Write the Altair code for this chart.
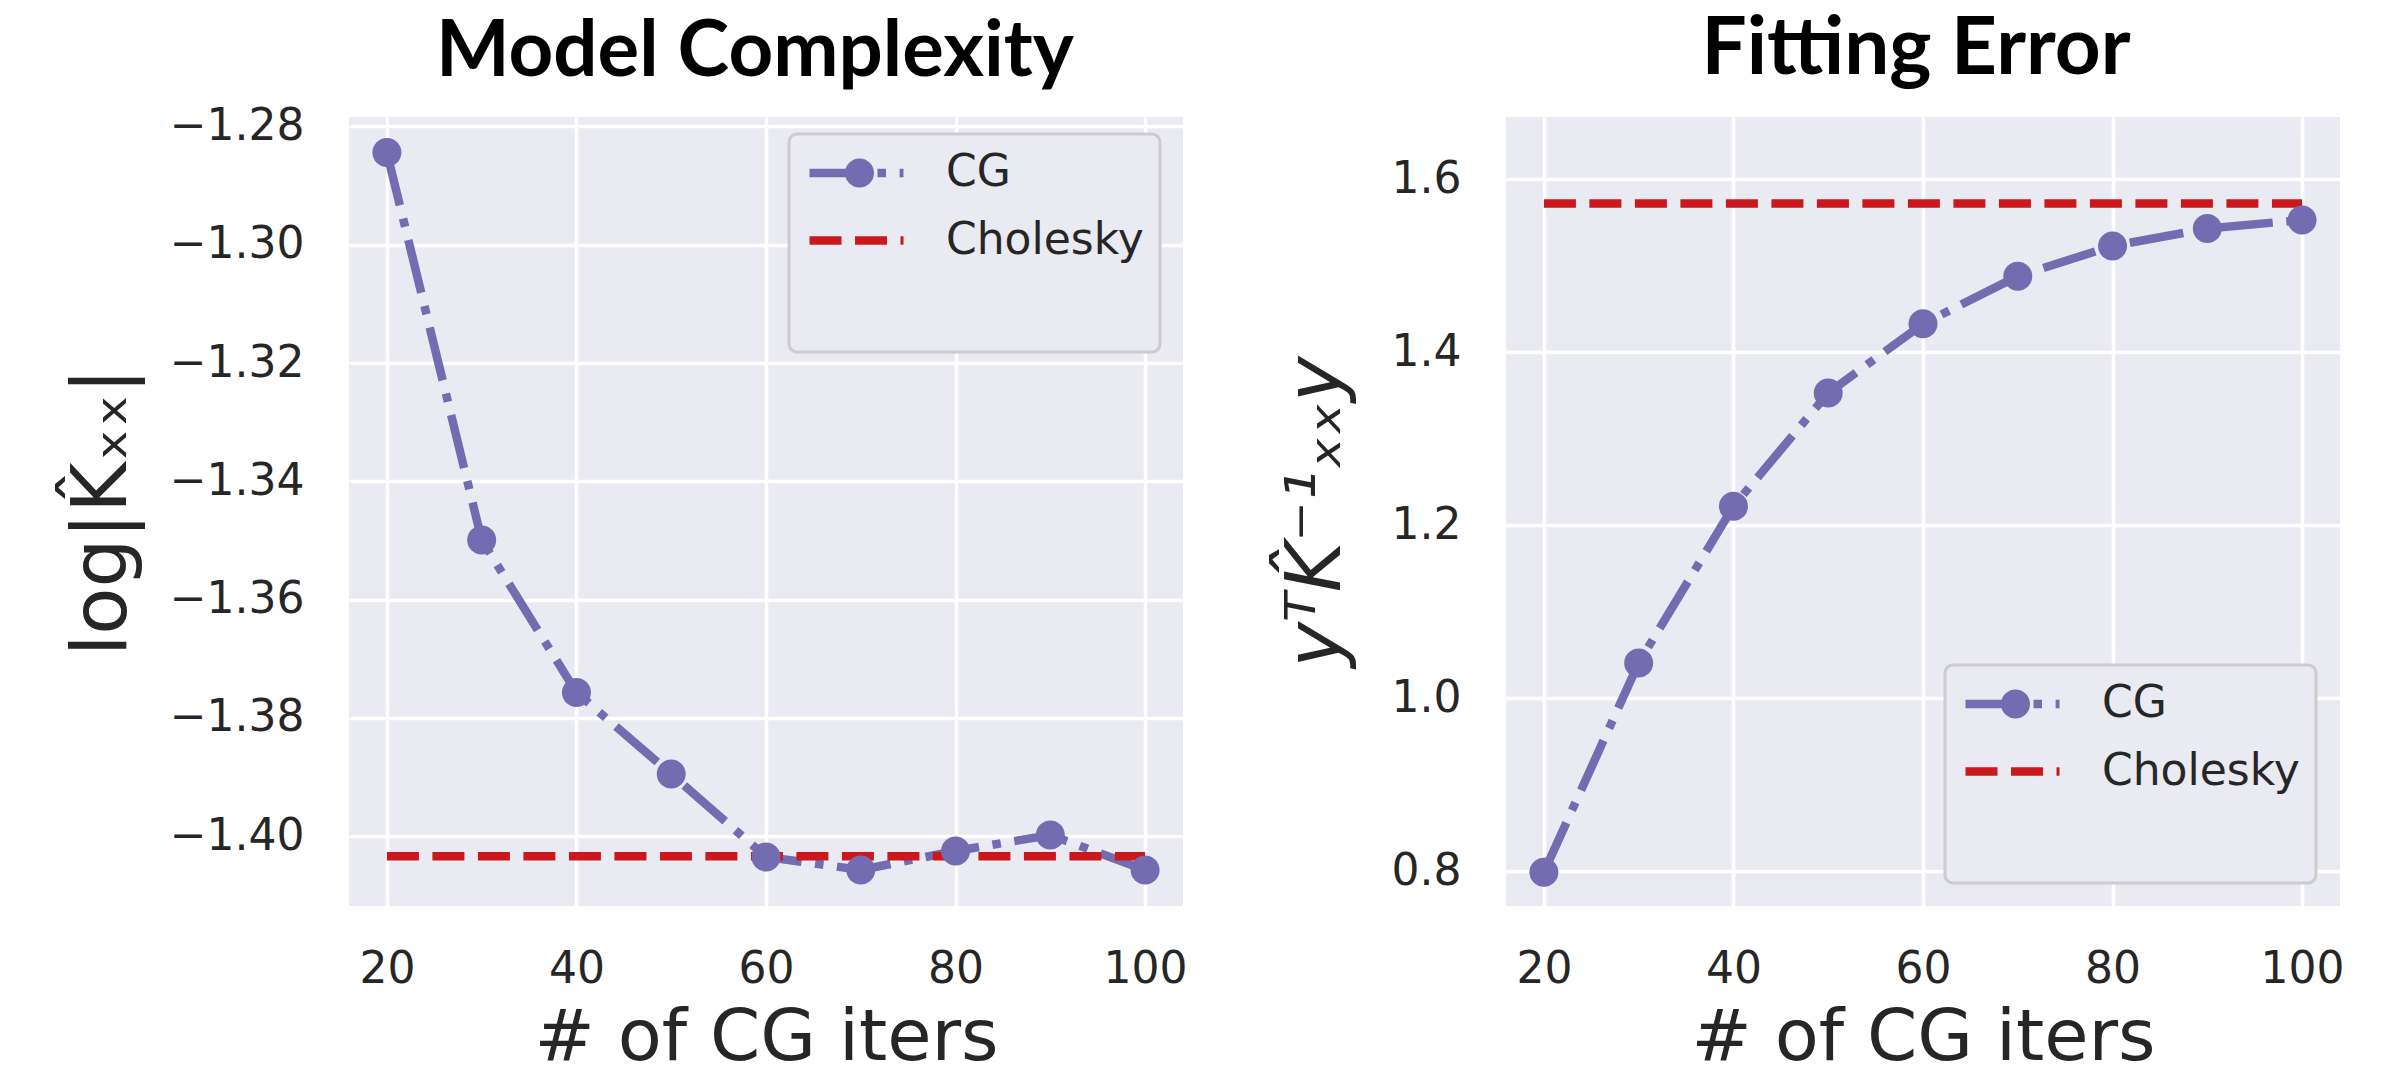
import altair as alt
import pandas as pd

iters = [20, 30, 40, 50, 60, 70, 80, 90, 100]
logdet_cg = [-1.2844, -1.3499, -1.3757, -1.3895, -1.4035, -1.4057, -1.4025, -1.3998, -1.4057]
logdet_chol = -1.4034
fit_cg = [0.799, 1.041, 1.222, 1.353, 1.433, 1.488, 1.523, 1.543, 1.553]
fit_chol = 1.572

series = ["CG", "Cholesky"]
marker_keys = ["CG marker", "Cholesky marker"]
colors = ["#756bb1", "#cb181d"]
x_ticks = [20, 40, 60, 80, 100]
left_ticks = [-1.40, -1.38, -1.36, -1.34, -1.32, -1.30, -1.28]
right_ticks = [0.8, 1.0, 1.2, 1.4, 1.6]
x_domain = [16, 104]
left_domain = [-1.4118, -1.2784]
right_domain = [0.760, 1.672]

PURPLE = colors[0]
LW = 8.5
DASHES = [[54.4, 13.6, 8.5, 13.6], [32, 13.5]]
W, H = 834, 789


def make_df(cg, chol):
    rows = [{"iter": i, "value": v, "series": "CG"} for i, v in zip(iters, cg)]
    rows += [{"iter": iters[0], "value": chol, "series": "Cholesky"},
             {"iter": iters[-1], "value": chol, "series": "Cholesky"}]
    df = pd.DataFrame(rows)
    df["mk"] = df["series"] + " marker"
    return df


def panel(cg, chol, ydom, yticks, yfmt, ytitle, ystyle, ytpad, title, tsize, toff, tdx, lx, ly):
    df = make_df(cg, chol)
    base = alt.Chart(df)
    x = alt.X("iter:Q", scale=alt.Scale(domain=x_domain, nice=False, zero=False),
              axis=alt.Axis(values=x_ticks, title="# of CG iters", format="d"))
    y = alt.Y("value:Q", scale=alt.Scale(domain=ydom, nice=False, zero=False),
              axis=alt.Axis(values=yticks, format=yfmt, title=ytitle, titleFontStyle=ystyle,
                            titlePadding=ytpad))
    leg_a = alt.Legend(
        orient="none", legendX=lx, legendY=ly, title="x", titleOrient="bottom",
        titleOpacity=0, titleFontSize=50, titlePadding=22,
        symbolType="stroke", symbolSize=94 * 94, symbolStrokeWidth=LW,
        clipHeight=46, rowPadding=21.6, padding=16, labelOffset=38,
        labelFontSize=44, labelFont="DejaVu Sans", labelColor="#262626", labelLimit=500,
        fillColor="#eaeaf2", strokeColor="#cccccc", cornerRadius=8, zindex=1,
    )
    leg_b = alt.Legend(
        orient="none", legendX=lx, legendY=ly, title=None,
        symbolSize=840, symbolFillColor=PURPLE, symbolStrokeWidth=0, symbolOpacity=1,
        clipHeight=46, rowPadding=21.6, padding=16, symbolOffset=32.5,
        labelOpacity=0, labelExpr="''", labelFontSize=44, labelFont="DejaVu Sans",
        labelLimit=500, labelOffset=38, zindex=2,
    )
    line = base.mark_line(strokeWidth=LW).encode(
        x=x, y=y,
        color=alt.Color("series:N", scale=alt.Scale(domain=series, range=colors), legend=leg_a),
        strokeDash=alt.StrokeDash("series:N", scale=alt.Scale(domain=series, range=DASHES), legend=leg_a),
    )
    pts = base.transform_filter("datum.series == 'CG'").mark_point(
        filled=True, size=840, opacity=1, color=PURPLE
    ).encode(
        x=x, y=y,
        shape=alt.Shape("mk:N", scale=alt.Scale(domain=marker_keys, range=["circle", "M0,0"]),
                        legend=leg_b),
    )
    return alt.layer(line, pts).properties(
        width=W, height=H,
        title=alt.Title(title, font="Lato", fontSize=tsize, fontWeight="bold", color="black",
                        frame="group", anchor="middle", offset=toff, dx=tdx, baseline="top"),
    )


left = panel(logdet_cg, logdet_chol, left_domain, left_ticks, ".2f",
             "log|K\u0302\u2093\u2093|", "normal", 28, "Model Complexity", 78, 12, -11, 440, 17)
right = panel(fit_cg, fit_chol, right_domain, right_ticks, ".1f",
              "y\u1d40K\u0302\u207b\u00b9\u2093\u2093y", "italic", 36, "Fitting Error", 80, 26, -7, 439, 548)

chart = alt.hconcat(left, right, spacing=89).resolve_scale(
    x="independent", y="independent", color="independent",
    strokeDash="independent", shape="independent",
).resolve_legend(
    color="independent", strokeDash="independent", shape="independent"
).properties(
    padding={"left": 55, "top": 2, "right": 0, "bottom": -9}
).configure_view(
    fill="#eaeaf2", stroke=None
).configure_legend(
    strokeWidth=3
).configure_axis(
    labelFont="DejaVu Sans", labelFontSize=44, labelColor="#262626",
    titleFont="DejaVu Sans", titleColor="#262626", titleFontWeight="normal",
    ticks=False, domain=False, gridColor="white", gridWidth=3.5,
).configure_axisX(
    labelPadding=41, titleFontSize=72, titlePadding=11, labelFlush=False,
).configure_axisY(
    labelPadding=45, titleFontSize=77,
)

chart.save("out.html", embed_options={"renderer": "svg", "actions": False})
